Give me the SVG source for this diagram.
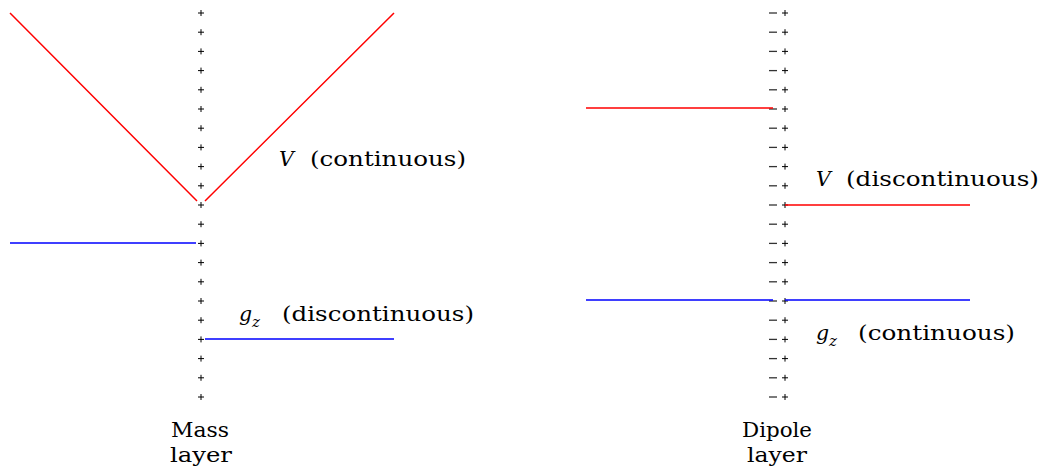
<svg xmlns="http://www.w3.org/2000/svg" width="1048" height="470" viewBox="0 0 1048 470">
<style>
  text { font-family: "DejaVu Serif", "Liberation Serif", serif; font-size: 19.5px; fill: #000; }
  .it { font-style: italic; font-size: 20.5px; }
  .sub { font-size: 15px; font-style: italic; }
  .red { stroke: #ff0000; stroke-width: 1.5; fill: none; }
  .blue { stroke: #0000ff; stroke-width: 1.5; fill: none; }
  .plus { stroke: #000; stroke-width: 1; }
  .minus { stroke: #333; stroke-width: 1.3; }
</style>
<defs>
  <path id="p" class="plus" d="M-3,0H3M0,-3V3"/>
  <path id="m" class="minus" d="M-4,0H4"/>
</defs>

<!-- mass layer: column of + charges -->
<g id="mass-layer">
  <use href="#p" x="201" y="13"/><use href="#p" x="201" y="32.2"/><use href="#p" x="201" y="51.4"/>
  <use href="#p" x="201" y="70.6"/><use href="#p" x="201" y="89.8"/><use href="#p" x="201" y="109"/>
  <use href="#p" x="201" y="128.2"/><use href="#p" x="201" y="147.4"/><use href="#p" x="201" y="166.6"/>
  <use href="#p" x="201" y="185.8"/><use href="#p" x="201" y="205"/><use href="#p" x="201" y="224.2"/>
  <use href="#p" x="201" y="243.4"/><use href="#p" x="201" y="262.6"/><use href="#p" x="201" y="281.8"/>
  <use href="#p" x="201" y="301"/><use href="#p" x="201" y="320.2"/><use href="#p" x="201" y="339.4"/>
  <use href="#p" x="201" y="358.6"/><use href="#p" x="201" y="377.8"/><use href="#p" x="201" y="397"/>
  <text x="171" y="437" textLength="58" lengthAdjust="spacingAndGlyphs">Mass</text>
  <text x="170" y="462" textLength="62" lengthAdjust="spacingAndGlyphs">layer</text>
</g>

<!-- dipole layer: column of - + pairs -->
<g id="dipole-layer">
  <g transform="translate(773,0)">
    <use href="#m" y="13"/><use href="#m" y="32.2"/><use href="#m" y="51.4"/><use href="#m" y="70.6"/>
    <use href="#m" y="89.8"/><use href="#m" y="109"/><use href="#m" y="128.2"/><use href="#m" y="147.4"/>
    <use href="#m" y="166.6"/><use href="#m" y="185.8"/><use href="#m" y="205"/><use href="#m" y="224.2"/>
    <use href="#m" y="243.4"/><use href="#m" y="262.6"/><use href="#m" y="281.8"/><use href="#m" y="301"/>
    <use href="#m" y="320.2"/><use href="#m" y="339.4"/><use href="#m" y="358.6"/><use href="#m" y="377.8"/>
    <use href="#m" y="397"/>
  </g>
  <g transform="translate(785,0)">
    <use href="#p" y="13"/><use href="#p" y="32.2"/><use href="#p" y="51.4"/><use href="#p" y="70.6"/>
    <use href="#p" y="89.8"/><use href="#p" y="109"/><use href="#p" y="128.2"/><use href="#p" y="147.4"/>
    <use href="#p" y="166.6"/><use href="#p" y="185.8"/><use href="#p" y="205"/><use href="#p" y="224.2"/>
    <use href="#p" y="243.4"/><use href="#p" y="262.6"/><use href="#p" y="281.8"/><use href="#p" y="301"/>
    <use href="#p" y="320.2"/><use href="#p" y="339.4"/><use href="#p" y="358.6"/><use href="#p" y="377.8"/>
    <use href="#p" y="397"/>
  </g>
  <text x="742" y="437" textLength="70" lengthAdjust="spacingAndGlyphs">Dipole</text>
  <text x="747" y="462" textLength="60" lengthAdjust="spacingAndGlyphs">layer</text>
</g>

<!-- potential and field profiles -->
<g id="connectors">
  <path class="red" d="M10,13L197,201M205,201L394,13"/>
  <path class="blue" d="M10,243H196M205,339H394"/>
  <path class="red" d="M586,108H773M785,205H970"/>
  <path class="blue" d="M586,300H773M785,300H970"/>
</g>

<g id="labels">
  <text class="it" x="279" y="166">V</text>
  <text x="310" y="166" textLength="156" lengthAdjust="spacingAndGlyphs">(continuous)</text>
  <text class="it" x="239" y="321">g</text>
  <text class="sub" x="252" y="327">z</text>
  <text x="282" y="321" textLength="192" lengthAdjust="spacingAndGlyphs">(discontinuous)</text>
  <text class="it" x="816" y="186">V</text>
  <text x="846" y="186" textLength="193" lengthAdjust="spacingAndGlyphs">(discontinuous)</text>
  <text class="it" x="816" y="340">g</text>
  <text class="sub" x="829" y="346">z</text>
  <text x="858" y="340" textLength="157" lengthAdjust="spacingAndGlyphs">(continuous)</text>
</g>
</svg>
